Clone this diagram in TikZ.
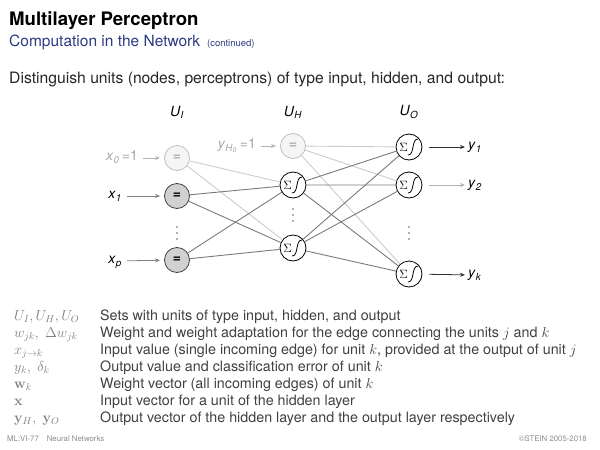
\documentclass[tikz,border=0pt]{standalone}
\usepackage[no-math]{fontspec}
\setmainfont{TeX Gyre Heros}
\usepackage{amsmath, amssymb}
\usetikzlibrary{arrows.meta}
\definecolor{slideblue}{RGB}{44,58,130}
\newcommand{\lbl}[2]{\textit{#1}\textsubscript{\textit{#2}}}

\begin{document}
\begin{tikzpicture}[
  x=1pt, y=-1pt,
  inunit/.style={
    circle, draw=black!75, fill=black!18, line width=0.8pt,
    minimum size=25pt, inner sep=0pt,
    font=\fontsize{14}{14}\selectfont\bfseries
  },
  biasunit/.style={
    circle, draw=black!25, fill=black!4, text=black!30, line width=0.8pt,
    minimum size=25pt, inner sep=0pt,
    font=\fontsize{14}{14}\selectfont\bfseries
  },
  sigunit/.style={
    circle, draw, fill=white, line width=0.8pt,
    minimum size=26pt, inner sep=0pt,
    path picture={
      \node[inner sep=0pt, font=\fontsize{12}{12}\selectfont]
        at ([xshift=-5.5pt]path picture bounding box.center) {$\Sigma$};
      \draw[line width=0.8pt]
        ([xshift=-1pt,yshift=-8pt]path picture bounding box.center)
        .. controls ([xshift=6pt,yshift=-8pt]path picture bounding box.center)
        and ([xshift=2pt,yshift=8pt]path picture bounding box.center)
        .. ([xshift=9pt,yshift=8pt]path picture bounding box.center);
    }
  },
  layer/.style={font=\fontsize{14}{16}\selectfont},
  io/.style={font=\fontsize{14}{16}\selectfont, inner sep=2pt,
    text height=1.6ex, text depth=0.5ex},
  edge/.style={draw=black!52, line width=0.9pt},
  biasedge/.style={draw=black!20, line width=0.9pt},
  inarrow/.style={-{Stealth[length=5pt,width=4pt]}, draw=black!50,
    line width=0.8pt, shorten <=3pt, shorten >=4pt},
  outarrow/.style={-{Stealth[length=5pt,width=4pt]}, draw=black!80,
    line width=0.8pt, shorten <=7pt, shorten >=1pt},
  sym/.style={anchor=base west, inner sep=0pt, text=black!50,
    font=\fontsize{14}{16}\selectfont},
  desc/.style={anchor=base west, inner sep=0pt, text=black!75,
    font=\fontsize{14.3}{17}\selectfont},
  ]
  \useasboundingbox (0,0) rectangle (600,450);

  % heading
  \node[anchor=base west, inner sep=0pt,
    font=\fontsize{18.6}{22}\selectfont\bfseries] (title) at (9,25)
    {Multilayer Perceptron};
  \node[anchor=base west, inner sep=0pt, text=slideblue,
    font=\fontsize{15.5}{18}\selectfont] (subtitle) at (9,46)
    {Computation in the Network\, {\fontsize{9.5}{11}\selectfont(continued)}};
  \node[anchor=base west, inner sep=0pt, text=black!85,
    font=\fontsize{15.7}{18}\selectfont] (intro) at (9,83)
    {Distinguish units (nodes, perceptrons) of type input, hidden, and output:};

  % layers
  \node[layer] (UI) at (177,112) {\lbl{U}{I}};
  \node[layer] (UH) at (293,112) {\lbl{U}{H}};
  \node[layer] (UO) at (409,112) {\lbl{U}{O}};

  \node[biasunit] (x0) at (177,158) {=};
  \node[inunit] (x1) at (177,196) {=};
  \node[inunit] (xp) at (177,260) {=};

  \node[biasunit] (h0) at (293,146) {=};
  \node[sigunit] (h1) at (293,185) {};
  \node[sigunit] (h2) at (293,248) {};

  \node[sigunit] (o1) at (409,147) {};
  \node[sigunit] (o2) at (409,185) {};
  \node[sigunit] (ok) at (409,274) {};

  % vertical dots
  \foreach \d in {-6,0,6} {
    \fill[black!60] (177,{233+\d}) circle (0.9);
    \fill[black!60] (293,{215+\d}) circle (0.9);
    \fill[black!60] (409,{233+\d}) circle (0.9);
  }

  % inputs and outputs
  \node[io, anchor=east, text=black!35] (lx0) at (140,158) {\lbl{x}{0}\,=1};
  \node[io, anchor=east] (lx1) at (124,196) {\lbl{x}{1}};
  \node[io, anchor=east] (lxp) at (124,261) {\lbl{x}{p}};
  \node[io, anchor=east, text=black!35] (lh0) at (258,146)
    {\textit{y}\textsubscript{\textit{H}\textsubscript{\textit{0}}}\,=1};
  \node[io, anchor=west] (ly1) at (466,147) {\lbl{y}{1}};
  \node[io, anchor=west] (ly2) at (466,185) {\lbl{y}{2}};
  \node[io, anchor=west] (lyk) at (466,275) {\lbl{y}{k}};

  \draw[inarrow, draw=black!30] (lx0) -- (x0);
  \draw[inarrow] (lx1) -- (x1);
  \draw[inarrow] (lxp) -- (xp);
  \draw[inarrow, draw=black!30] (lh0) -- (h0);
  \draw[outarrow] (o1) -- (ly1);
  \draw[outarrow, draw=black!30] (o2) -- (ly2);
  \draw[outarrow] (ok) -- (lyk);

  % weights
  \draw[biasedge] (x0) -- (h1) (x0) -- (h2);
  \draw[edge] (x1) -- (h1) (x1) -- (h2);
  \draw[edge] (xp) -- (h1) (xp) -- (h2);
  \draw[biasedge] (h0) -- (o1) (h0) -- (o2) (h0) -- (ok);
  \draw[edge] (h1) -- (o1) (h1) -- (o2) (h1) -- (ok);
  \draw[edge] (h2) -- (o1) (h2) -- (o2) (h2) -- (ok);

  % notation
  \node[sym] (s1) at (14,320) {$U_I, U_H, U_O$};
  \node[desc] (d1) at (100,320) {Sets with units of type input, hidden, and output};
  \node[sym] (s2) at (14,337) {$w_{jk},\ \Delta w_{jk}$};
  \node[desc] (d2) at (100,337) {Weight and weight adaptation for the edge connecting the units $j$ and $k$};
  \node[sym] (s3) at (14,354) {$x_{j\to k}$};
  \node[desc] (d3) at (100,354) {Input value (single incoming edge) for unit $k$, provided at the output of unit $j$};
  \node[sym] (s4) at (14,371) {$y_k,\ \delta_k$};
  \node[desc] (d4) at (100,371) {Output value and classification error of unit $k$};
  \node[sym] (s5) at (14,388) {$\mathbf{w}_k$};
  \node[desc] (d5) at (100,388) {Weight vector (all incoming edges) of unit $k$};
  \node[sym] (s6) at (14,405) {$\mathbf{x}$};
  \node[desc] (d6) at (100,405) {Input vector for a unit of the hidden layer};
  \node[sym] (s7) at (14,422) {$\mathbf{y}_H,\ \mathbf{y}_O$};
  \node[desc] (d7) at (100,422) {Output vector of the hidden layer and the output layer respectively};

  % footer
  \node[anchor=base west, inner sep=0pt, text=black!45,
    font=\fontsize{7.8}{9}\selectfont] (footl) at (7,441) {ML:VI-77\hspace{8pt}Neural Networks};
  \node[anchor=base east, inner sep=0pt, text=black!45,
    font=\fontsize{7.8}{9}\selectfont] (footr) at (587,441) {\textcopyright STEIN 2005-2018};
\end{tikzpicture}
\end{document}
